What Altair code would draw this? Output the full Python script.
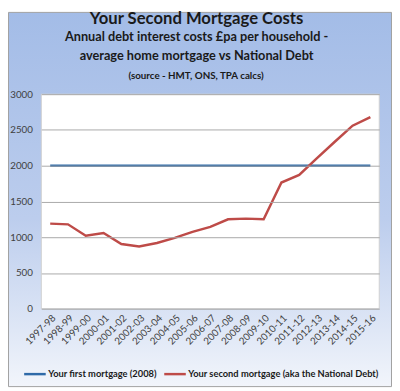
import altair as alt
import pandas as pd

categories = ["1997-98", "1998-99", "1999-00", "2000-01", "2001-02", "2002-03",
              "2003-04", "2004-05", "2005-06", "2006-07", "2007-08", "2008-09",
              "2009-10", "2010-11", "2011-12", "2012-13", "2013-14", "2014-15",
              "2015-16"]
first_mortgage = [2000, 2000, 2000, 2000, 2000, 2000, 2000, 2000, 2000, 2000,
                  2000, 2000, 2000, 2000, 2000, 2000, 2000, 2000, 2000]
second_mortgage = [1190, 1180, 1020, 1060, 905, 870, 920, 990, 1075, 1145,
                   1250, 1260, 1250, 1765, 1870, 2105, 2335, 2560, 2680]
series_names = ["Your first mortgage (2008)",
                "Your second mortgage (aka the National Debt)"]
series_colors = ["#2f6aa8", "#be4b48"]
y_ticks = [0, 500, 1000, 1500, 2000, 2500, 3000]

rows = []
for c, v in zip(categories, first_mortgage):
    rows.append({"year": c, "value": v, "series": series_names[0]})
for c, v in zip(categories, second_mortgage):
    rows.append({"year": c, "value": v, "series": series_names[1]})
df = pd.DataFrame(rows)
one = pd.DataFrame({"a": [0]})

W, H = 345, 219
FONT = "Lato"

bg = alt.Chart(one).mark_rect(
    fill={"gradient": "linear", "x1": 0, "y1": 0, "x2": 0, "y2": 1,
          "stops": [{"offset": 0, "color": "#a3bce7"},
                    {"offset": 0.55, "color": "#bccded"},
                    {"offset": 0.85, "color": "#dfe7f6"},
                    {"offset": 1, "color": "#f2f5fb"}]},
    stroke="#a0a0a0", strokeWidth=1,
).encode(x=alt.value(-33.5), x2=alt.value(357.5), y=alt.value(-83.5), y2=alt.value(298.5))

plot_bg = alt.Chart(one).mark_rect(fill="white", stroke="#d0d0d0", strokeWidth=1).encode(
    x=alt.value(0), x2=alt.value(W), y=alt.value(0), y2=alt.value(H))

yscale = alt.Scale(domain=[0, 3000])
yaxis = alt.Axis(values=y_ticks, format="d", grid=True, gridColor="#a8a8a8",
                 gridOpacity=1, gridWidth=1,
                 ticks=False, domain=False,
                 labelFont=FONT, labelFontSize=10, labelColor="#404040",
                 labelPadding=9, title=None, zindex=1)

lines = alt.Chart(df).mark_line(strokeWidth=2.5).encode(
    x=alt.X("year:N", sort=categories,
            scale=alt.Scale(type="point", padding=0.5),
            axis=alt.Axis(labelAngle=-45, labelFont=FONT, labelFontSize=10,
                          labelColor="#404040", ticks=False, domain=False,
                          labelPadding=4, title=None, grid=False, zindex=1)),
    y=alt.Y("value:Q", scale=yscale, axis=yaxis),
    color=alt.Color("series:N",
                    scale=alt.Scale(domain=series_names, range=series_colors),
                    legend=alt.Legend(orient="none", legendX=-19, legendY=273,
                                      direction="horizontal", title=None,
                                      symbolType="stroke", symbolSize=484,
                                      symbolStrokeWidth=2.5,
                                      labelFont=FONT, labelFontSize=9.5,
                                      labelFontWeight="bold", labelColor="#1a1a1a",
                                      columnPadding=2, labelOffset=1,
                                      labelLimit=400)),
)

source = alt.Chart(one).mark_text(
    text="(source - HMT, ONS, TPA calcs)", font=FONT, fontSize=10,
    fontWeight="bold", color="#1a1a1a", align="center", baseline="middle",
).encode(x=alt.value(158), y=alt.value(-19))

chart = alt.layer(bg, plot_bg, lines, source).properties(
    width=W, height=H,
    autosize=alt.AutoSizeParams(type="none"),
    padding={"left": 34, "top": 84, "right": 13, "bottom": 80},
    title=alt.TitleParams(
        text="Your Second Mortgage Costs",
        subtitle=["Annual debt interest costs £pa per household -",
                  "average home mortgage vs National Debt"],
        font=FONT, fontSize=17, fontWeight="bold", color="#1a1a1a",
        subtitleFont=FONT, subtitleFontSize=13, subtitleFontWeight="bold",
        subtitleColor="#1a1a1a", subtitleLineHeight=19, subtitlePadding=4,
        anchor="middle", frame="group", dx=-14, offset=-53,
    ),
).configure_view(stroke=None)

chart.save("out.html", embed_options={"renderer": "svg", "actions": False})
